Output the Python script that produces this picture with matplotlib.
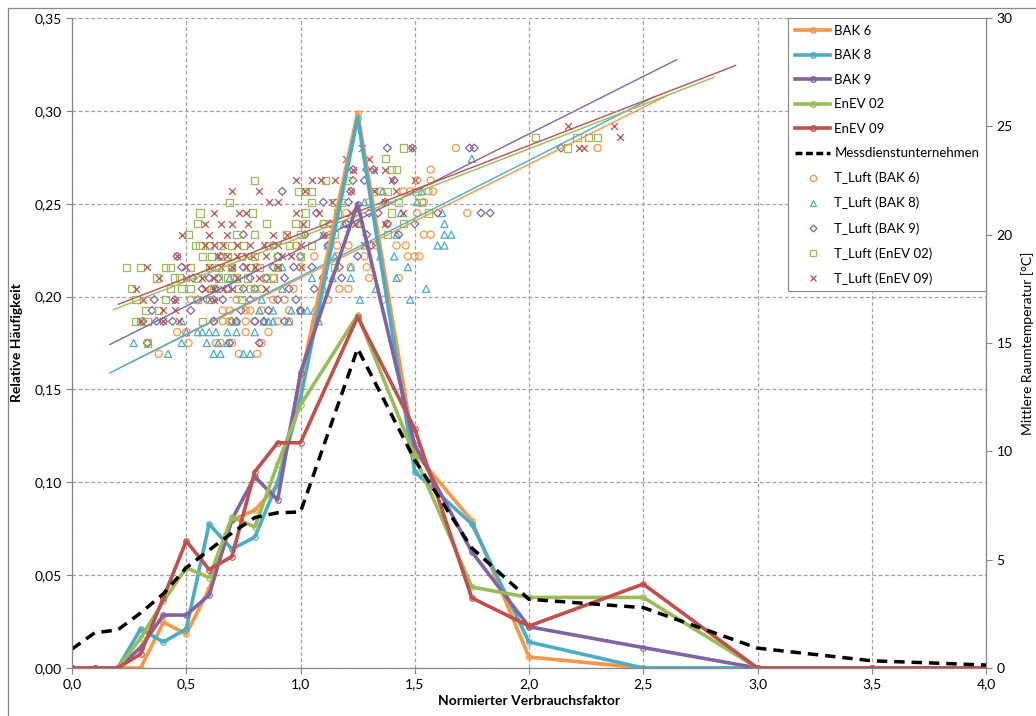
import numpy as np
import matplotlib.pyplot as plt
from matplotlib.lines import Line2D
from matplotlib.patches import Rectangle
from matplotlib.ticker import FuncFormatter, MultipleLocator

plt.rcParams['font.family'] = ['Lato', 'DejaVu Sans']

# Häufigkeitsverteilungen (linke Achse)
x_vf = [0.0, 0.1, 0.2, 0.3, 0.4, 0.5, 0.6, 0.7, 0.8, 0.9, 1.0, 1.25, 1.5, 1.75, 2.0, 2.5, 3.0, 3.5, 4.0]
bak6 = [0, 0, 0, 0, 0.0246, 0.0183, 0.0425, 0.0797, 0.085, 0.0985, 0.155, 0.299, 0.116, 0.0793, 0.0059, 0, 0, 0, 0]
bak8 = [0, 0, 0, 0.021, 0.014, 0.021, 0.0775, 0.064, 0.0705, 0.100, 0.145, 0.296, 0.1057, 0.0775, 0.014, 0, 0, 0, 0]
bak9 = [0, 0, 0, 0.011, 0.0285, 0.0285, 0.0393, 0.080, 0.103, 0.0905, 0.159, 0.250, 0.120, 0.0625, 0.0222, 0.011, 0, 0, 0]
enev02 = [0, 0, 0, 0.016, 0.036, 0.054, 0.0487, 0.0813, 0.076, 0.110, 0.1416, 0.190, 0.114, 0.0436, 0.038, 0.038, 0, 0, 0]
enev09 = [0, 0, 0, 0.0075, 0.0379, 0.0684, 0.053, 0.060, 0.1057, 0.1213, 0.1213, 0.189, 0.1287, 0.0377, 0.0226, 0.0452, 0, 0, 0]
messdienst = [0.0102, 0.019, 0.0205, 0.0296, 0.040, 0.054, 0.0635, 0.0727, 0.081, 0.0836, 0.084, 0.172, 0.112, 0.0646, 0.037, 0.0325, 0.0107, 0.0039, 0.0016]

# Raumtemperaturen (rechte Achse): (T, [Verbrauchsfaktoren])
tl_bak6 = [
    (14.5, [0.38, 0.73, 0.81]),
    (15.0, [0.33, 0.51, 0.63, 0.65, 0.70, 0.83]),
    (15.5, [0.46, 0.50, 0.76, 0.86]),
    (16.0, [0.62, 0.66, 0.69, 0.76, 0.80, 0.90, 0.95]),
    (16.5, [0.66, 0.69, 0.76, 0.78, 0.83, 0.95, 1.00]),
    (17.0, [0.52, 0.72, 0.88, 0.93, 1.12, 1.36]),
    (17.5, [0.61, 0.83, 0.97, 1.17, 1.21]),
    (18.0, [0.71, 0.88, 1.10, 1.30, 1.43]),
    (18.5, [0.81, 1.00, 1.22, 1.29]),
    (19.0, [1.06, 1.16, 1.28, 1.47, 1.50, 1.52]),
    (19.5, [0.98, 1.16, 1.21, 1.33, 1.42, 1.46]),
    (20.0, [1.13, 1.54, 1.57]),
    (20.5, [1.10, 1.20, 1.25, 1.38]),
    (21.0, [1.20, 1.24, 1.51, 1.73]),
    (21.5, [1.30, 1.54]),
    (22.0, [1.35, 1.45, 1.48, 1.56, 1.58]),
    (22.5, [1.51, 1.57]),
    (23.0, [1.57]),
    (24.0, [1.68, 2.30]),
]
tl_bak8 = [
    (14.5, [0.42, 0.62, 0.65, 0.75, 0.78]),
    (15.0, [0.27, 0.48, 0.59, 0.64, 0.68]),
    (15.5, [0.50, 0.55, 0.57, 0.60, 0.63, 0.68, 0.72, 0.80]),
    (16.0, [0.48, 0.72, 0.84, 0.86, 0.88, 0.95, 1.08]),
    (16.5, [0.82, 0.88, 0.96, 1.00, 1.03, 1.06]),
    (17.0, [0.83, 1.26, 1.48]),
    (17.5, [0.63, 0.92, 1.10, 1.33, 1.55]),
    (18.0, [0.69, 1.05, 1.14, 1.22, 1.42]),
    (18.5, [0.92, 1.22, 1.47]),
    (19.0, [1.15, 1.35, 1.41]),
    (19.5, [1.12, 1.28, 1.60, 1.63]),
    (20.0, [1.10, 1.42, 1.63, 1.66]),
    (20.5, [1.19, 1.26, 1.63]),
    (21.0, [1.44, 1.62]),
    (21.5, [1.28, 1.51]),
    (22.0, [1.36, 1.53]),
    (23.5, [1.75]),
]
tl_bak9 = [
    (15.0, [0.33, 0.69, 0.82]),
    (16.0, [0.31, 0.37, 0.40, 0.44, 0.62, 0.70, 0.72, 0.80, 0.84, 0.93]),
    (16.5, [0.35, 0.52, 0.74, 0.86, 1.00]),
    (17.0, [0.36, 0.45, 0.55, 0.59, 0.62, 0.66, 0.78, 0.90, 0.98]),
    (17.5, [0.57, 0.63, 0.68, 0.75, 0.80, 0.95, 1.06]),
    (18.0, [0.53, 0.60, 0.64, 0.78, 0.85, 0.93, 1.10, 1.18]),
    (18.5, [0.48, 0.70, 0.75, 0.88, 0.97, 1.05, 1.17]),
    (19.0, [0.46, 0.65, 0.90, 1.00, 1.25]),
    (19.5, [0.88, 1.12, 1.31]),
    (20.0, [0.75, 1.02, 1.29, 1.43]),
    (20.5, [1.13, 1.20, 1.38, 1.50]),
    (21.0, [1.07, 1.30, 1.34, 1.60, 1.79, 1.83]),
    (21.5, [1.10, 1.21, 1.37]),
    (22.0, [0.92, 1.22]),
    (22.5, [1.23, 1.28, 1.41]),
    (23.0, [1.23, 1.29, 1.32]),
    (24.0, [1.38, 1.49, 1.74, 1.76, 2.14]),
]
tl_enev02 = [
    (15.0, [0.33]),
    (16.0, [0.28, 0.30, 0.33, 0.57, 0.70]),
    (16.5, [0.32, 0.38]),
    (17.0, [0.28, 0.41, 0.55, 0.60, 0.74]),
    (17.5, [0.26, 0.43, 0.48, 0.52, 0.62, 0.68, 0.73, 0.78, 0.80]),
    (18.0, [0.37, 0.45, 0.47, 0.55, 0.64, 0.68, 0.72, 0.77, 0.85, 0.88]),
    (18.5, [0.24, 0.30, 0.41, 0.43, 0.52, 0.60, 0.64, 0.70, 0.78, 0.82, 0.90, 1.15]),
    (19.0, [0.57, 0.61, 0.65, 0.68, 0.74, 0.80, 0.90, 1.00]),
    (19.5, [0.54, 0.56, 0.60, 0.65, 0.70, 0.75, 0.86, 0.95, 1.05]),
    (20.0, [0.51, 0.72, 0.80, 0.94, 1.00, 1.15, 1.38]),
    (20.5, [0.55, 0.85, 0.98, 1.02, 1.10, 1.45]),
    (21.0, [0.56, 0.79, 1.02, 1.16, 1.40, 1.56]),
    (21.5, [0.69, 1.05, 1.15, 1.18, 1.43, 1.53]),
    (22.0, [0.99, 1.02, 1.05, 1.32, 1.38, 1.51]),
    (22.5, [0.80, 1.11, 1.20]),
    (23.0, [1.40, 1.42]),
    (23.5, [1.37]),
    (24.0, [1.45, 2.17]),
    (24.5, [2.03, 2.21, 2.26, 2.30]),
]
tl_enev09 = [
    (16.0, [0.30, 0.40, 0.47]),
    (16.5, [0.40, 0.45]),
    (17.0, [0.31, 0.45, 0.62]),
    (17.5, [0.28, 0.58, 0.62, 0.66, 0.70, 0.85]),
    (18.0, [0.38, 0.50, 0.57, 0.62, 0.72, 0.82]),
    (18.5, [0.33, 0.50, 0.60, 0.65, 0.70, 0.76, 0.80, 0.90, 1.00]),
    (19.0, [0.46, 0.64, 0.68, 0.72, 0.76, 0.79, 0.85, 0.92, 0.96]),
    (19.5, [0.58, 0.62, 0.66, 0.72, 0.78, 0.84, 0.90, 1.00, 1.28]),
    (20.0, [0.48, 0.60, 0.68, 0.88, 0.94, 1.10]),
    (20.5, [0.58, 0.65, 0.70, 0.77, 1.01, 1.24, 1.37]),
    (21.0, [0.62, 0.73, 0.76, 0.98, 1.08, 1.22, 1.45]),
    (21.5, [0.86, 0.90, 1.14, 1.37]),
    (22.0, [0.70, 0.82, 1.02, 1.22, 1.32, 1.42]),
    (22.5, [0.98, 1.05, 1.09, 1.15, 1.40, 1.50]),
    (23.0, [1.23, 1.32, 1.37]),
    (23.5, [1.20, 1.30]),
    (24.0, [1.27, 1.49, 2.22, 2.24]),
    (24.5, [2.40]),
    (25.0, [2.17, 2.37]),
]

# lineare Trendlinien: Steigung, Achsenabschnitt, Bereich
trend_slope = [5.25, 5.35, 5.30, 4.08, 4.08]
trend_icpt = [12.75, 12.73, 14.05, 15.80, 15.96]
trend_x0 = [0.217, 0.166, 0.166, 0.181, 0.203]
trend_x1 = [2.60, 2.55, 2.646, 2.81, 2.904]

names = ['BAK 6', 'BAK 8', 'BAK 9', 'EnEV 02', 'EnEV 09']
colors = ['#F79646', '#4BACC6', '#8064A2', '#9BBB59', '#C0504D']
markers = ['o', '^', 'D', 's', 'x']
msizes = [26, 26, 16, 26, 24]
series = [bak6, bak8, bak9, enev02, enev09]
tl_rows = [tl_bak6, tl_bak8, tl_bak9, tl_enev02, tl_enev09]

fig = plt.figure(figsize=(10.36, 7.16), dpi=100)
ax = fig.add_axes([72 / 1036, 48 / 716, 914 / 1036, 650 / 716])
ax2 = ax.twinx()
ax.set_zorder(ax2.get_zorder() + 1)
ax.patch.set_visible(False)

# Streupunkte + Trendlinien auf der rechten Achse
for i in range(5):
    xs, ts = [], []
    for t, row in tl_rows[i]:
        xs += row
        ts += [t] * len(row)
    if markers[i] == 'x':
        ax2.scatter(xs, ts, s=msizes[i], marker='x', color=colors[i], linewidths=0.9)
    else:
        ax2.scatter(xs, ts, s=msizes[i], marker=markers[i], facecolors='none',
                    edgecolors=colors[i], linewidths=0.9)
    xt = np.array([trend_x0[i], trend_x1[i]])
    ax2.plot(xt, trend_slope[i] * xt + trend_icpt[i], color=colors[i], lw=1.0)

# Linien auf der linken Achse
for i in range(5):
    ax.plot(x_vf, series[i], color=colors[i], lw=2.6, marker='o', ms=4,
            mfc='none', mec=colors[i], mew=0.8)
ax.plot(x_vf, messdienst, color='black', lw=2.5, ls=(0, (3, 2)))

ax.set_xlim(0, 4)
ax.set_ylim(0, 0.35)
ax2.set_ylim(0, 30)
ax.xaxis.set_major_locator(MultipleLocator(0.5))
ax.yaxis.set_major_locator(MultipleLocator(0.05))
ax2.yaxis.set_major_locator(MultipleLocator(5))
ax.xaxis.set_major_formatter(FuncFormatter(lambda v, p: f'{v:.1f}'.replace('.', ',')))
ax.yaxis.set_major_formatter(FuncFormatter(lambda v, p: f'{v:.2f}'.replace('.', ',')))

ax.grid(True, color='#A0A0A0', ls=(0, (3, 2)), lw=0.9)
for a in (ax, ax2):
    for s in a.spines.values():
        s.set_visible(False)
    a.tick_params(labelsize=10, colors='#868686', labelcolor='black', length=4, width=0.8)
ax.spines['left'].set_visible(True)
ax.spines['bottom'].set_visible(True)
ax2.spines['right'].set_visible(True)
for s in (ax.spines['left'], ax.spines['bottom'], ax2.spines['right']):
    s.set_color('#868686')
    s.set_linewidth(0.9)

ax.set_xlabel('Normierter Verbrauchsfaktor', fontsize=10, fontweight='bold', labelpad=3)
ax.set_ylabel('Relative Häufigkeit', fontsize=10, fontweight='bold', labelpad=8)
ax2.set_ylabel('Mittlere Raumtemperatur [°C]', fontsize=10, labelpad=6)

handles = []
labels = []
for i in range(5):
    handles.append(Line2D([], [], color=colors[i], lw=2.6, marker='o', ms=4, mfc='none', mec=colors[i]))
    labels.append(names[i])
handles.append(Line2D([], [], color='black', lw=2.5, ls=(0, (2, 1))))
labels.append('Messdienstunternehmen')
for i in range(5):
    if markers[i] == 'x':
        handles.append(Line2D([], [], ls='none', marker='x', ms=5, color=colors[i], mew=0.9))
    else:
        handles.append(Line2D([], [], ls='none', marker=markers[i], ms=4.5 if markers[i] != 'D' else 3.5,
                              mfc='none', mec=colors[i], mew=0.9))
    labels.append('T_Luft (' + names[i] + ')')

leg = ax.legend(handles, labels, loc='upper right', bbox_to_anchor=(1, 1), borderaxespad=0,
                fancybox=False, edgecolor='#868686', fontsize=9.5, labelspacing=0.95,
                handlelength=2.7, handletextpad=0.3, borderpad=0.5, framealpha=1)
leg.get_frame().set_linewidth(0.8)

fig.patches.append(Rectangle((8 / 1036, -0.05), 1.2, 1.05 - 8 / 716, transform=fig.transFigure,
                             fill=False, edgecolor='#868686', lw=0.9))

fig.savefig('out.png', dpi=100)
